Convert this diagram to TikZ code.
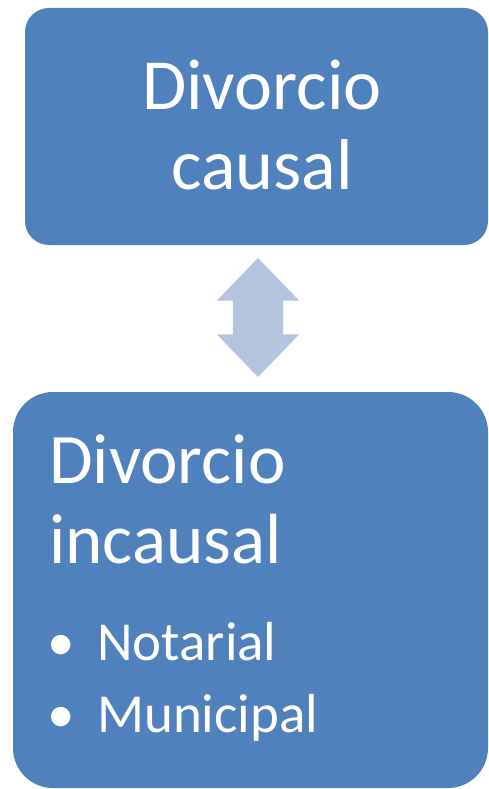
\documentclass[tikz,border=0pt]{standalone}
\usepackage{fontspec}
\setmainfont{Carlito}
\usepackage{tikz}
\usetikzlibrary{shapes.arrows}
\definecolor{cajaazul}{HTML}{4F81BD}
\definecolor{flechaazul}{HTML}{B4C3DE}
\tikzset{
	caja/.style={fill=cajaazul, draw=none, inner sep=0pt},
	texto/.style={text=white, inner sep=0pt, anchor=base west},
	flecha/.style={fill=flechaazul, draw=none, double arrow, inner xsep=0pt, inner ysep=25pt,
		double arrow head extend=16pt, double arrow tip angle=88}
}

\begin{document}
\begin{tikzpicture}[x=1pt,y=1pt]

	\useasboundingbox (0,0) rectangle (489,-789);

				\node[caja, minimum width=463pt, minimum height=237pt, rounded corners=24pt]
					(causal)		at (256.5,-126.5)		{};
				\node[texto, anchor=center, align=center, font=\fontsize{72}{80}\selectfont]
					(causaltexto)	at (262,-125)		{Divorcio\\causal};

				\node[caja, minimum width=475pt, minimum height=396pt, rounded corners=40pt]
					(incausal)		at (250.5,-590)		{};

				\node[texto, font=\fontsize{71}{80}\selectfont] (tituloA)	at (49,-483)	{Divorcio};
				\node[texto, font=\fontsize{71}{80}\selectfont] (tituloB)	at (49,-563)	{incausal};

				\node[texto, anchor=base, font=\fontsize{55}{72}\selectfont] (puntoA)	at (61,-660)	{\textbullet};
				\node[texto, font=\fontsize{55}{72}\selectfont] (notarial)	at (97,-660)	{Notarial};
				\node[texto, anchor=base, font=\fontsize{55}{72}\selectfont] (puntoB)	at (61,-732)	{\textbullet};
				\node[texto, font=\fontsize{55}{72}\selectfont] (municipal)	at (97,-732)	{Municipal};

				% flecha doble entre las dos cajas
				\node[flecha, rotate=90, minimum height=119pt]
					(vinculo)		at (258,-317.5)		{};

\end{tikzpicture}
\end{document}
